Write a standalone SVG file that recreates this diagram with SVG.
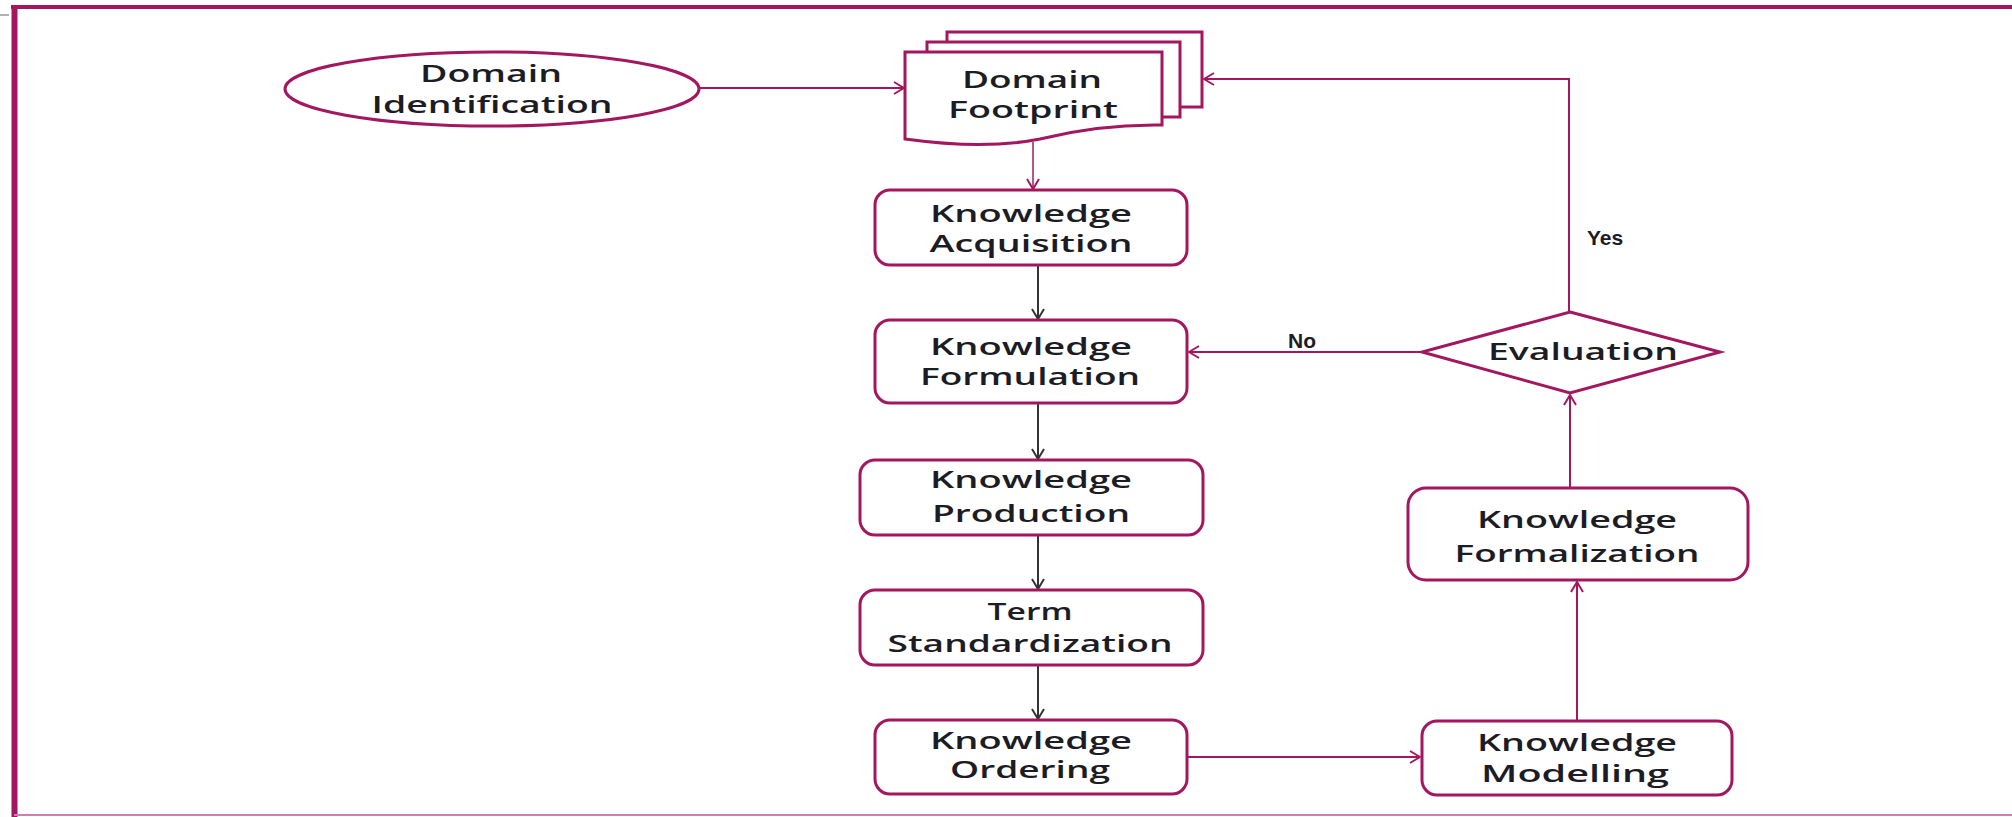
<svg xmlns="http://www.w3.org/2000/svg" width="2012" height="817" viewBox="0 0 2012 817">
<defs>
<style>
.n{fill:#fff;stroke:#a3175f;stroke-width:3}
.t{font-family:"Open Sans","Liberation Sans",sans-serif;font-weight:600;font-size:23px;fill:#1c1c24;text-anchor:middle}
.c{fill:none;stroke:#a3175f;stroke-width:2}
.k{fill:none;stroke:#333;stroke-width:2}
.l{font-family:"Liberation Sans",Arial,sans-serif;font-weight:700;font-size:21px;fill:#1c1c24}
</style>
<marker id="am" viewBox="0 0 12 14" markerWidth="12" markerHeight="14" refX="11" refY="7" orient="auto" markerUnits="userSpaceOnUse">
<path d="M1,1 L11,7 L1,13" fill="none" stroke="#a3175f" stroke-width="2"/>
</marker>
<marker id="ak" viewBox="0 0 12 14" markerWidth="12" markerHeight="14" refX="11" refY="7" orient="auto" markerUnits="userSpaceOnUse">
<path d="M1,1 L11,7 L1,13" fill="none" stroke="#333" stroke-width="2"/>
</marker>
</defs>
<rect width="2012" height="817" fill="#fff"/>
<g id="frame">
<line x1="0" y1="15" x2="9" y2="15" stroke="#999" stroke-width="1.5"/>
<line x1="11" y1="7" x2="2012" y2="7" stroke="#a3175f" stroke-width="4"/>
<line x1="14.5" y1="5" x2="14.5" y2="817" stroke="#a3175f" stroke-width="6"/>
<line x1="14" y1="815" x2="2012" y2="815" stroke="#cf7fae" stroke-width="2"/>
</g>
<g id="connectors">
<line class="c" x1="700" y1="88" x2="904" y2="88" marker-end="url(#am)"/>
<polyline class="c" points="1569,311 1569,79 1204,79" marker-end="url(#am)"/>
<line x1="1033" y1="142" x2="1033" y2="189" stroke="#b8568c" stroke-width="2" marker-end="url(#am)"/>
<line class="k" x1="1038" y1="266" x2="1038" y2="319" marker-end="url(#ak)"/>
<line class="k" x1="1038" y1="404" x2="1038" y2="459" marker-end="url(#ak)"/>
<line class="k" x1="1038" y1="535" x2="1038" y2="589" marker-end="url(#ak)"/>
<line class="k" x1="1038" y1="665" x2="1038" y2="719" marker-end="url(#ak)"/>
<line class="c" x1="1188" y1="757" x2="1420" y2="757" marker-end="url(#am)"/>
<line class="c" x1="1577" y1="721" x2="1577" y2="582" marker-end="url(#am)"/>
<line class="c" x1="1570" y1="487" x2="1570" y2="395" marker-end="url(#am)"/>
<line class="c" x1="1422" y1="352" x2="1189" y2="352" marker-end="url(#am)"/>
<text class="l" x="1288" y="348">No</text>
<text class="l" x="1587" y="245">Yes</text>
</g>
<g id="domain-identification">
<ellipse class="n" cx="492" cy="89" rx="207" ry="37"/>
<text class="t" x="491" y="82" textLength="142" lengthAdjust="spacingAndGlyphs">Domain</text>
<text class="t" x="492" y="113" textLength="241" lengthAdjust="spacingAndGlyphs">Identification</text>
</g>
<g id="domain-footprint">
<path class="n" d="M947,42 V32 H1202 V107 H1180"/>
<path class="n" d="M927,52 V42 H1180 V117 H1162"/>
<path class="n" d="M905,52 H1162 V125 Q1100,124 1040,139 Q985,150 905,139 Z"/>
<text class="t" x="1032" y="88" textLength="140" lengthAdjust="spacingAndGlyphs">Domain</text>
<text class="t" x="1033" y="118" textLength="170" lengthAdjust="spacingAndGlyphs">Footprint</text>
</g>
<g id="knowledge-acquisition">
<rect class="n" x="875" y="190" width="312" height="75" rx="15"/>
<text class="t" x="1031" y="222" textLength="202" lengthAdjust="spacingAndGlyphs">Knowledge</text>
<text class="t" x="1031" y="252" textLength="203" lengthAdjust="spacingAndGlyphs">Acquisition</text>
</g>
<g id="knowledge-formulation">
<rect class="n" x="875" y="320" width="312" height="83" rx="15"/>
<text class="t" x="1031" y="355" textLength="202" lengthAdjust="spacingAndGlyphs">Knowledge</text>
<text class="t" x="1030" y="385" textLength="220" lengthAdjust="spacingAndGlyphs">Formulation</text>
</g>
<g id="knowledge-production">
<rect class="n" x="860" y="460" width="343" height="75" rx="15"/>
<text class="t" x="1031" y="488" textLength="202" lengthAdjust="spacingAndGlyphs">Knowledge</text>
<text class="t" x="1031" y="522" textLength="198" lengthAdjust="spacingAndGlyphs">Production</text>
</g>
<g id="term-standardization">
<rect class="n" x="860" y="590" width="343" height="75" rx="15"/>
<text class="t" x="1030" y="620" textLength="85" lengthAdjust="spacingAndGlyphs">Term</text>
<text class="t" x="1030" y="652" textLength="285" lengthAdjust="spacingAndGlyphs">Standardization</text>
</g>
<g id="knowledge-ordering">
<rect class="n" x="875" y="720" width="312" height="74" rx="15"/>
<text class="t" x="1031" y="749" textLength="202" lengthAdjust="spacingAndGlyphs">Knowledge</text>
<text class="t" x="1030" y="778" textLength="160" lengthAdjust="spacingAndGlyphs">Ordering</text>
</g>
<g id="knowledge-modelling">
<rect class="n" x="1422" y="721" width="310" height="74" rx="15"/>
<text class="t" x="1577" y="751" textLength="200" lengthAdjust="spacingAndGlyphs">Knowledge</text>
<text class="t" x="1575" y="782" textLength="188" lengthAdjust="spacingAndGlyphs">Modelling</text>
</g>
<g id="knowledge-formalization">
<rect class="n" x="1408" y="488" width="340" height="92" rx="18"/>
<text class="t" x="1577" y="528" textLength="200" lengthAdjust="spacingAndGlyphs">Knowledge</text>
<text class="t" x="1577" y="562" textLength="245" lengthAdjust="spacingAndGlyphs">Formalization</text>
</g>
<g id="evaluation">
<polygon class="n" points="1570,312 1720,352 1570,393 1422,352"/>
<text class="t" x="1583" y="360" textLength="190" lengthAdjust="spacingAndGlyphs">Evaluation</text>
</g>
</svg>
